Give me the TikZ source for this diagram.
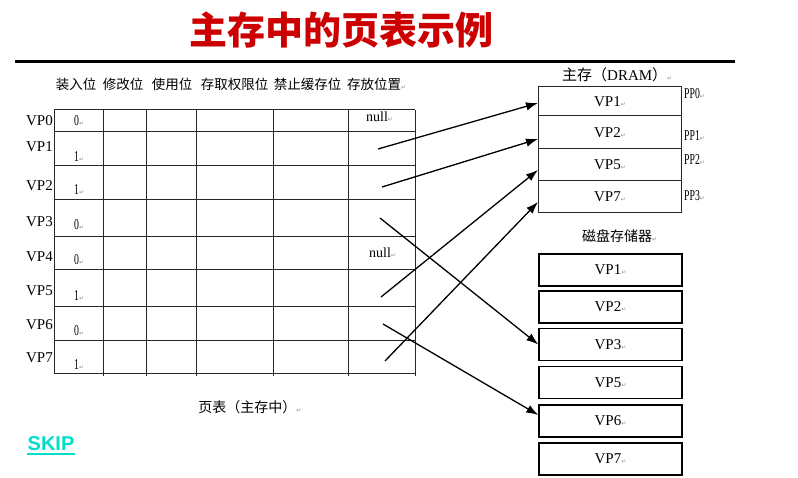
\documentclass[tikz,border=0pt]{standalone}
\usepackage{fontspec}
\usepackage{graphicx}
\setmainfont{Liberation Serif}
\newfontfamily\cjk{Noto Sans CJK SC}
\newfontfamily\sansf{Liberation Sans}
\newfontfamily\symf{DejaVu Sans}
\usetikzlibrary{arrows.meta}
\definecolor{titlered}{RGB}{204,0,0}
\definecolor{skipcyan}{RGB}{0,221,204}
\newcommand{\crmark}{{\symf\fontsize{6}{6}\selectfont\textcolor{black!45}{↵}}}
\newcommand{\narrow}[1]{\scalebox{0.65}[1]{#1}}

\begin{document}
\begin{tikzpicture}[x=1pt,y=-1pt,>={Latex[length=12pt,width=8.5pt]},
	tabline/.style={black!85,line width=1pt},
	colhead/.style={font=\cjk\fontsize{13.5}{13.5}\selectfont,inner sep=0pt},
	vplabel/.style={font=\fontsize{15}{15}\selectfont,anchor=east,inner sep=1pt},
	bitval/.style={font=\fontsize{15}{15}\selectfont,anchor=west,inner sep=0pt},
	memrow/.style={draw=black!85,line width=1pt,minimum width=143pt,inner sep=0pt,font=\fontsize{15}{15}\selectfont},
	diskbox/.style={draw,line width=1.3pt,minimum width=143pt,minimum height=32pt,inner sep=0pt,font=\fontsize{15}{15}\selectfont},
	maparrow/.style={->,line width=1.3pt}]
\useasboundingbox (0,0) rectangle (798,478);

\node[font=\cjk\bfseries\fontsize{38}{38}\selectfont,text=titlered] (title) at (341,30) {主存中的页表示例};
\draw[line width=3pt] (15,62) -- (735,62);

% column heads of the page table
\node[colhead] (h_load) at (76,84) {装入位};
\node[colhead] (h_mod) at (123,84) {修改位};
\node[colhead] (h_use) at (172,84) {使用位};
\node[colhead] (h_perm) at (234.5,84) {存取权限位};
\node[colhead] (h_cache) at (307.5,84) {禁止缓存位};
\node[colhead,anchor=west] (h_where) at (347,84) {存放位置\crmark};

% table rules
\draw[tabline] (54,110) -- (415,110);
\draw[tabline] (54,132) -- (415,132);
\draw[tabline] (54,166) -- (415,166);
\draw[tabline] (54,200) -- (415,200);
\draw[tabline] (54,237) -- (415,237);
\draw[tabline] (54,270) -- (415,270);
\draw[tabline] (54,307) -- (415,307);
\draw[tabline] (54,341) -- (415,341);
\draw[tabline] (54,373) -- (415,373);
\draw[tabline] (54,110) -- (54,373);
\draw[tabline] (103,110) -- (103,376);
\draw[tabline] (146,110) -- (146,376);
\draw[tabline] (196,110) -- (196,376);
\draw[tabline] (273,110) -- (273,376);
\draw[tabline] (348,110) -- (348,376);
\draw[tabline] (415,110) -- (415,376);

\node[vplabel] (VP_0) at (54,121) {VP0};
\node[vplabel] (VP_1) at (54,147) {VP1};
\node[vplabel] (VP_2) at (54,186) {VP2};
\node[vplabel] (VP_3) at (54,222) {VP3};
\node[vplabel] (VP_4) at (54,257) {VP4};
\node[vplabel] (VP_5) at (54,291) {VP5};
\node[vplabel] (VP_6) at (54,325) {VP6};
\node[vplabel] (VP_7) at (54,358) {VP7};

\node[bitval] (bit_0) at (74,121) {\narrow{0}\crmark};
\node[bitval] (bit_1) at (74,157) {\narrow{1}\crmark};
\node[bitval] (bit_2) at (74,190) {\narrow{1}\crmark};
\node[bitval] (bit_3) at (74,225) {\narrow{0}\crmark};
\node[bitval] (bit_4) at (74,260) {\narrow{0}\crmark};
\node[bitval] (bit_5) at (74,296) {\narrow{1}\crmark};
\node[bitval] (bit_6) at (74,331) {\narrow{0}\crmark};
\node[bitval] (bit_7) at (74,365) {\narrow{1}\crmark};

\node[bitval,font=\fontsize{14}{14}\selectfont] (null_0) at (366,117) {null\crmark};
\node[bitval,font=\fontsize{14}{14}\selectfont] (null_4) at (369,253) {null\crmark};

\node[font=\cjk\fontsize{14}{14}\selectfont] (tab_cap) at (250,407) {页表（主存中）\crmark};

% main memory
\node[font=\fontsize{15}{15}\selectfont,anchor=west,inner sep=0pt] (mem_head) at (562,75) {{\cjk 主存（}DRAM{\cjk ）}\crmark};
\node[memrow,minimum height=29pt] (mem_0) at (610,101.5) {VP1\crmark};
\node[memrow,minimum height=33pt] (mem_1) at (610,132.5) {VP2\crmark};
\node[memrow,minimum height=32pt] (mem_2) at (610,165) {VP5\crmark};
\node[memrow,minimum height=32pt] (mem_3) at (610,197) {VP7\crmark};

\node[font=\fontsize{15}{15}\selectfont,anchor=west,inner sep=0pt] (PP_0) at (684,94) {\narrow{PP0}\crmark};
\node[font=\fontsize{15}{15}\selectfont,anchor=west,inner sep=0pt] (PP_1) at (684,136) {\narrow{PP1}\crmark};
\node[font=\fontsize{15}{15}\selectfont,anchor=west,inner sep=0pt] (PP_2) at (684,160) {\narrow{PP2}\crmark};
\node[font=\fontsize{15}{15}\selectfont,anchor=west,inner sep=0pt] (PP_3) at (684,196) {\narrow{PP3}\crmark};

% disk
\node[font=\cjk\fontsize{14}{14}\selectfont,anchor=west,inner sep=0pt] (disk_head) at (582,236) {磁盘存储器\crmark};
\node[diskbox] (disk_1) at (610.5,270) {VP1\crmark};
\node[diskbox] (disk_2) at (610.5,307) {VP2\crmark};
\node[diskbox] (disk_3) at (610.5,344.5) {VP3\crmark};
\node[diskbox] (disk_5) at (610.5,382.5) {VP5\crmark};
\node[diskbox] (disk_6) at (610.5,421) {VP6\crmark};
\node[diskbox] (disk_7) at (610.5,459) {VP7\crmark};

% where each page is kept
\coordinate (s_1) at (378,149);
\coordinate (s_2) at (382,187);
\coordinate (s_3) at (380,218);
\coordinate (s_5) at (381,297);
\coordinate (s_6) at (383,324);
\coordinate (s_7) at (385,361);
\draw[maparrow] (s_1) -- ([yshift=-1.5pt]mem_0.west);
\draw[maparrow] (s_2) -- ([yshift=-6.5pt]mem_1.west);
\draw[maparrow] (s_3) -- (disk_3.west);
\draw[maparrow] (s_5) -- ([yshift=-5pt]mem_2.west);
\draw[maparrow] (s_6) -- ([yshift=6pt]disk_6.west);
\draw[maparrow] (s_7) -- ([yshift=-5pt]mem_3.west);

\node[font=\sansf\bfseries\fontsize{20}{20}\selectfont,text=skipcyan,inner sep=0pt] (skip) at (51,444) {SKIP};
\draw[skipcyan,line width=2pt] ([yshift=-3.5pt]skip.base west) -- ([yshift=-3.5pt]skip.base east);

\end{tikzpicture}
\end{document}
